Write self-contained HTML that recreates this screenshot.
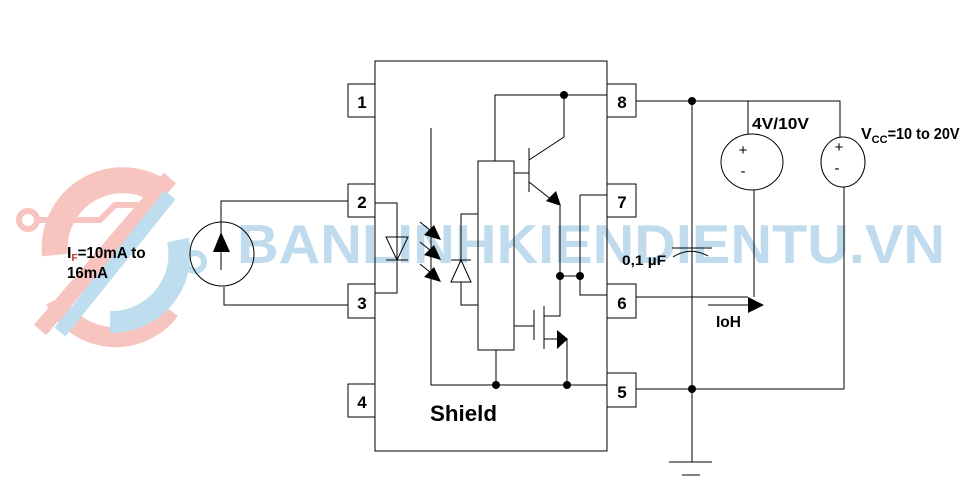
<!DOCTYPE html>
<html><head><meta charset="utf-8"><style>html,body{margin:0;padding:0;background:#fff}svg{display:block}</style></head>
<body>
<svg width="967" height="488" viewBox="0 0 967 488" xmlns="http://www.w3.org/2000/svg" font-family="Liberation Sans, sans-serif">
<g opacity="0.5">
<path d="M55 255 A68 68 0 0 1 165 195" stroke="#f08a80" stroke-width="26" fill="none"/>
<path d="M55 300 A68 68 0 0 0 170 310" stroke="#f08a80" stroke-width="20" fill="none"/>
<path d="M40 330 L170 178" stroke="#f08a80" stroke-width="16"/>
<circle cx="28" cy="220" r="9" fill="none" stroke="#f08a80" stroke-width="6"/>
<path d="M37 220 H100 L115 205 H140" stroke="#f08a80" stroke-width="6" fill="none"/>
<path d="M110 322 A68 68 0 0 0 178 240" stroke="#7fbde0" stroke-width="22" fill="none"/>
<path d="M60 332 L170 195" stroke="#7fbde0" stroke-width="14"/>
<circle cx="195" cy="262" r="9" fill="none" stroke="#7fbde0" stroke-width="6"/>
</g>
<text x="237" y="263" font-size="55" font-weight="bold" fill="#a6cde6" opacity="0.7" textLength="708" lengthAdjust="spacingAndGlyphs">BANLINHKIENDIENTU.VN</text>

<g stroke="#000" stroke-width="1" fill="none">
<rect x="375" y="61" width="232" height="390"/>
<rect x="348" y="84" width="27" height="33" fill="#fff"/>
<rect x="348" y="184" width="27" height="33" fill="#fff"/>
<rect x="348" y="284" width="27" height="34" fill="#fff"/>
<rect x="348" y="384" width="27" height="33" fill="#fff"/>
<rect x="607" y="84" width="29" height="33" fill="#fff"/>
<rect x="607" y="184" width="29" height="33" fill="#fff"/>
<rect x="607" y="284" width="29" height="34" fill="#fff"/>
<rect x="607" y="373" width="29" height="34" fill="#fff"/>
<rect x="478" y="161" width="36" height="189"/>
<path d="M495 161 V95 H607"/>
<path d="M564 95 V137 L529 160"/>
<path d="M529 148 V192 M514 173 H529 M529 182 L552 200 M560 206 V316 H544"/>
<path d="M560 276 H580 M580 195 H607 M580 195 V295 H607"/>
<path d="M514 326 H534 M534 310 V340 M544 306 V349 M544 339 H560 M567 339 V385"/>
<path d="M431 128 V385 H607 M496 350 V385"/>
<path d="M478 214 H461 V260 M451 260 H471 M461 260 L451 282 H471 Z M461 282 V305 H478"/>
<path d="M375 203 H397 V293 H375 M386 237 H408 L397 260 Z M386 260 H408"/>
<path d="M420 222 L436 235 M420 242 L436 255 M420 264 L436 277"/>
<path d="M348 201 H221 V270"/>
<circle cx="222" cy="254" r="32"/>
<path d="M224 287 V305 H348"/>
<path d="M636 101 H840 V137 M692 101 V462 M669 462 H712 M682 475 H700"/>
<path d="M636 389 H844 V187"/>
<path d="M748 101 V134"/>
<ellipse cx="752" cy="162" rx="31" ry="28"/>
<ellipse cx="843" cy="162" rx="22" ry="25"/>
<path d="M754 190 V297 M636 297 H748 M708 305 H748"/>
<path d="M672 248 H712 M673 257 Q690 246 708 256"/>
</g>
<g fill="#000">
<circle cx="564" cy="95" r="4"/>
<circle cx="560" cy="276" r="4"/>
<circle cx="580" cy="276" r="4"/>
<circle cx="496" cy="385" r="4"/>
<circle cx="567" cy="385" r="4"/>
<circle cx="692" cy="101" r="4"/>
<circle cx="692" cy="389" r="4"/>
<polygon points="561,206 546,201 556,191"/>
<polygon points="568,339 557,330 557,349"/>
<polygon points="441,240 424,235 434,225"/>
<polygon points="441,260 424,255 434,245"/>
<polygon points="441,282 424,277 434,267"/>
<polygon points="221,232 213,252 230,252"/>
<polygon points="748,297 764,305 748,313"/>
</g>
<g font-weight="bold" font-size="17" fill="#000" text-anchor="middle">
<text x="362" y="108">1</text><text x="362" y="208">2</text><text x="362" y="309">3</text><text x="362" y="408">4</text>
<text x="622" y="108">8</text><text x="622" y="208">7</text><text x="622" y="309">6</text><text x="622" y="398">5</text>
</g>
<text x="430" y="421" font-size="22" font-weight="bold" textLength="67" lengthAdjust="spacingAndGlyphs">Shield</text>
<g font-weight="bold" font-size="16" fill="#000">
<text x="67" y="258">I<tspan font-size="10" dy="3" fill="#c03020">F</tspan><tspan dy="-3" textLength="68" lengthAdjust="spacingAndGlyphs">=10mA to</tspan></text>
<text x="67" y="278" textLength="41" lengthAdjust="spacingAndGlyphs">16mA</text>
<text x="752" y="129" textLength="57" lengthAdjust="spacingAndGlyphs">4V/10V</text>
<text x="861" y="139">V<tspan font-size="11" dy="4">CC</tspan><tspan dy="-4" textLength="72" lengthAdjust="spacingAndGlyphs">=10 to 20V</tspan></text>
<text x="716" y="327" textLength="25" lengthAdjust="spacingAndGlyphs">IoH</text>
<text x="622" y="265" font-size="14" textLength="44" lengthAdjust="spacingAndGlyphs">0,1 µF</text>
</g>
<g font-size="15" fill="#000" text-anchor="middle">
<text x="743" y="155">+</text><text x="743" y="176">-</text>
<text x="839" y="152">+</text><text x="837" y="173">-</text>
</g>
</svg>
</body></html>
